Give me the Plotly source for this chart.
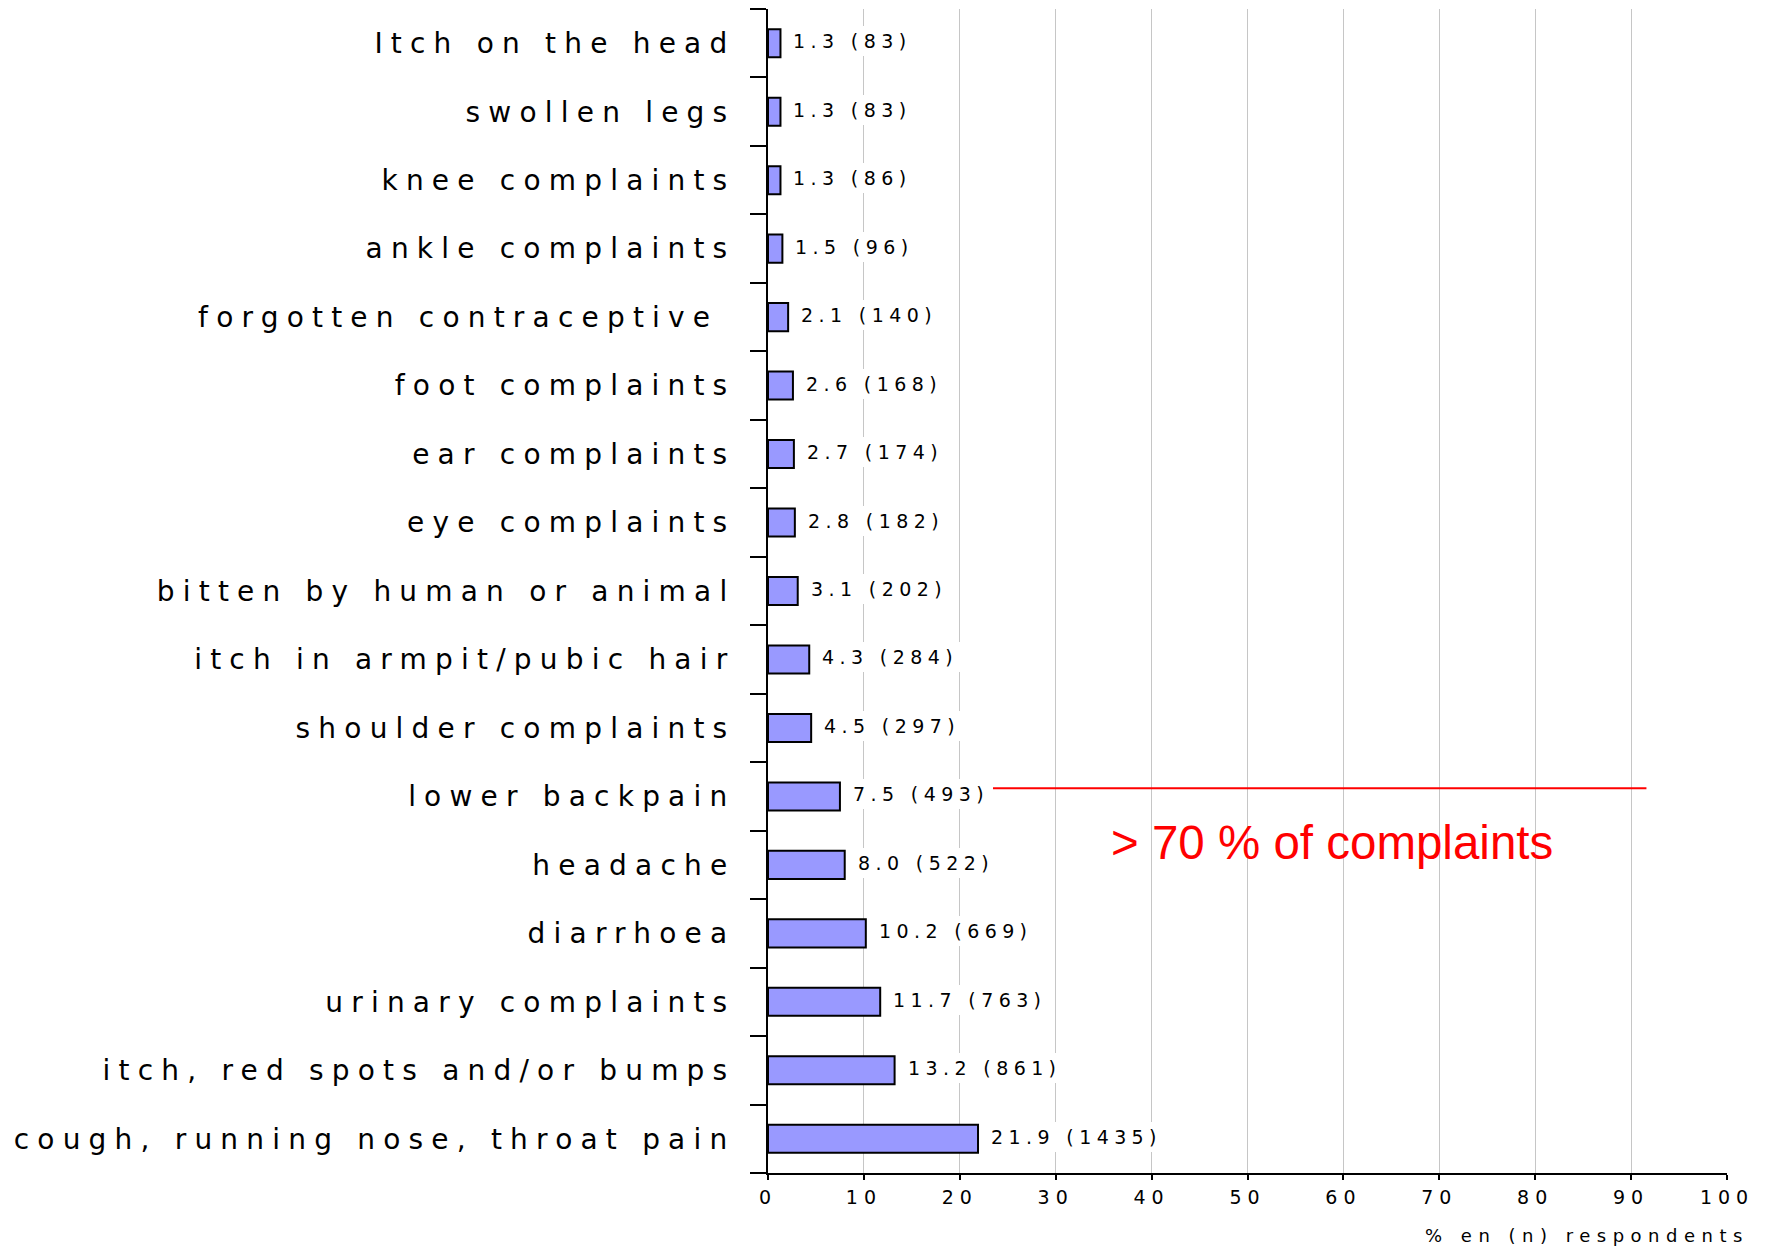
import plotly.graph_objects as go

# ---- data (top to bottom as shown) ----
categories = [
    "Itch on the head", "swollen legs", "knee complaints", "ankle complaints",
    "forgotten contraceptive\u00a0", "foot complaints", "ear complaints",
    "eye complaints", "bitten by human or animal", "itch in armpit/pubic hair",
    "shoulder complaints", "lower backpain", "headache", "diarrhoea",
    "urinary complaints", "itch, red spots and/or bumps",
    "cough, running nose, throat pain",
]
percent = [1.3, 1.3, 1.3, 1.5, 2.1, 2.6, 2.7, 2.8, 3.1, 4.3, 4.5, 7.5, 8.0, 10.2, 11.7, 13.2, 21.9]
counts = [83, 83, 86, 96, 140, 168, 174, 182, 202, 284, 297, 493, 522, 669, 763, 861, 1435]
x_ticks = [0, 10, 20, 30, 40, 50, 60, 70, 80, 90, 100]
x_title = "% en (n) respondents"
note_text = "> 70 % of complaints"
note_pos = (58.8, 11.68)
ref_line_x = (22.4, 91.6)
ref_line_y = 10.88

FONT = "DejaVu Sans"


def spaced(txt, px):
    return f'<span style="letter-spacing:{px}px">{txt}</span>'


fig = go.Figure()
fig.add_trace(go.Bar(
    x=percent, y=categories, orientation="h", width=0.41,
    marker=dict(color="#9999ff", line=dict(color="black", width=2)),
    hoverinfo="skip", showlegend=False,
))

annotations = []
for c, p, n in zip(categories, percent, counts):
    annotations.append(dict(
        x=p, y=c, xref="x", yref="y", xanchor="left", yanchor="middle",
        text=spaced(f"{p:.1f} ({n})", 5.4), showarrow=False,
        font=dict(family=FONT, size=19, color="black"),
        bgcolor="white", borderpad=4, borderwidth=0, xshift=9, yshift=2,
    ))

annotations.append(dict(
    x=note_pos[0], y=note_pos[1], xref="x", yref="y", xanchor="center", yanchor="middle",
    text=note_text, showarrow=False,
    font=dict(family="Liberation Sans, Arial", size=47.5, color="#ff0000"),
))
annotations.append(dict(
    x=1.0255, y=-0.0541, xref="paper", yref="paper", xanchor="right", yanchor="middle",
    text=spaced(x_title, 6.5), showarrow=False,
    font=dict(family=FONT, size=18, color="black"),
))

fig.add_shape(type="line", xref="x", yref="y",
              x0=ref_line_x[0], x1=ref_line_x[1], y0=ref_line_y, y1=ref_line_y,
              line=dict(color="#ff0000", width=2))

fig.update_layout(
    width=1768, height=1246,
    margin=dict(l=768, r=41, t=9, b=73, autoexpand=False),
    plot_bgcolor="white", paper_bgcolor="white",
    bargap=0.59,
    annotations=annotations,
    xaxis=dict(
        range=[0, 100], tickvals=x_ticks, ticktext=[spaced(str(t), 6) for t in x_ticks],
        showgrid=True, gridcolor="#c6c6c6", gridwidth=1, zeroline=False,
        showline=True, linecolor="black", linewidth=2,
        ticks="outside", ticklen=5, tickcolor="black", tickwidth=1.5,
        tickfont=dict(family=FONT, size=19, color="black"),
        ticklabelstandoff=1, automargin=False, fixedrange=True,
    ),
    yaxis=dict(
        type="category", categoryorder="array", categoryarray=categories,
        range=[16.5, -0.5],
        tickvals=categories, ticktext=[spaced(c, 8.2) for c in categories],
        tickson="boundaries", ticks="outside", ticklen=16, tickcolor="black", tickwidth=1.5,
        showgrid=False, zeroline=False,
        showline=True, linecolor="black", linewidth=2,
        tickfont=dict(family=FONT, size=28, color="black"),
        ticklabelstandoff=25, automargin=False, fixedrange=True,
    ),
)

fig.write_html("out.html")
